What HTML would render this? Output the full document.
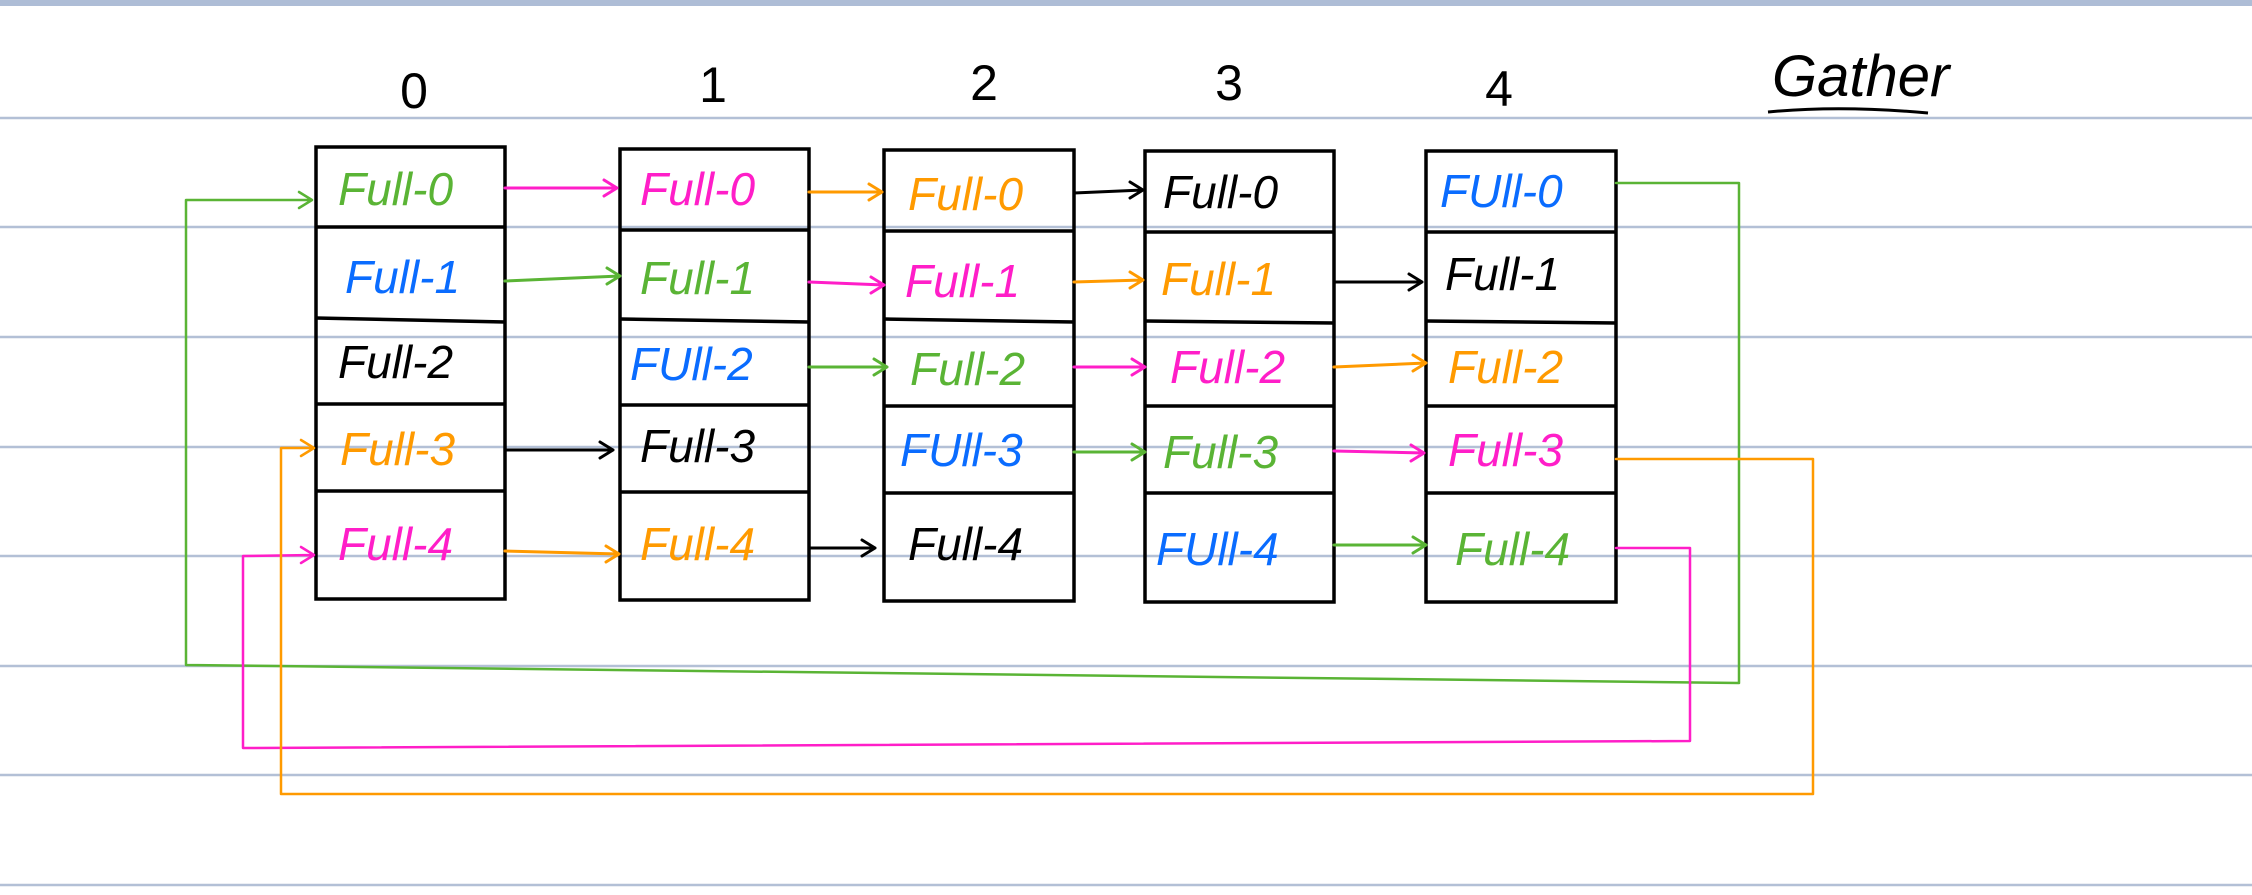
<!DOCTYPE html>
<html><head><meta charset="utf-8"><style>
html,body{margin:0;padding:0;background:#fff}
svg{display:block}
text{font-family:"Liberation Sans",sans-serif}
</style></head><body>
<svg width="2252" height="895" viewBox="0 0 2252 895" xmlns="http://www.w3.org/2000/svg">
<rect width="2252" height="895" fill="#fff"/>
<rect x="0" y="0" width="2252" height="6" fill="#aebdd6"/>
<g stroke="#b3c0d6" stroke-width="2.5">
<line x1="0" y1="118" x2="2252" y2="118"/>
<line x1="0" y1="227" x2="2252" y2="227"/>
<line x1="0" y1="337" x2="2252" y2="337"/>
<line x1="0" y1="447" x2="2252" y2="447"/>
<line x1="0" y1="556" x2="2252" y2="556"/>
<line x1="0" y1="666" x2="2252" y2="666"/>
<line x1="0" y1="775" x2="2252" y2="775"/>
<line x1="0" y1="885" x2="2252" y2="885"/>
</g>
<g font-size="50" fill="#000" text-anchor="middle">
<text x="414" y="108">0</text>
<text x="713" y="102">1</text>
<text x="984" y="100">2</text>
<text x="1229" y="100">3</text>
<text x="1499" y="106">4</text>
</g>
<text x="1772" y="96" font-size="58" font-style="italic" fill="#000">Gather</text>
<path d="M1768 112 Q1840 105 1928 113" stroke="#000" stroke-width="3" fill="none"/>

<!-- boxes -->
<g stroke="#000" stroke-width="3.5" fill="none">
<rect x="316" y="147" width="189" height="452"/>
<line x1="316" y1="227" x2="505" y2="227"/><line x1="316" y1="318" x2="505" y2="322"/><line x1="316" y1="404" x2="505" y2="404"/><line x1="316" y1="491" x2="505" y2="491"/>
<rect x="620" y="149" width="189" height="451"/>
<line x1="620" y1="230" x2="809" y2="230"/><line x1="620" y1="319" x2="809" y2="322"/><line x1="620" y1="405" x2="809" y2="405"/><line x1="620" y1="492" x2="809" y2="492"/>
<rect x="884" y="150" width="190" height="451"/>
<line x1="884" y1="231" x2="1074" y2="231"/><line x1="884" y1="319" x2="1074" y2="322"/><line x1="884" y1="406" x2="1074" y2="406"/><line x1="884" y1="493" x2="1074" y2="493"/>
<rect x="1145" y="151" width="189" height="451"/>
<line x1="1145" y1="232" x2="1334" y2="232"/><line x1="1145" y1="321" x2="1334" y2="323"/><line x1="1145" y1="406" x2="1334" y2="406"/><line x1="1145" y1="493" x2="1334" y2="493"/>
<rect x="1426" y="151" width="190" height="451"/>
<line x1="1426" y1="232" x2="1616" y2="232"/><line x1="1426" y1="321" x2="1616" y2="323"/><line x1="1426" y1="406" x2="1616" y2="406"/><line x1="1426" y1="493" x2="1616" y2="493"/>
</g>

<!-- cell text -->
<g font-size="46" font-style="italic">
<text x="338" y="205" fill="#5ab435">Full-0</text>
<text x="345" y="293" fill="#0a6cff">Full-1</text>
<text x="338" y="378" fill="#000">Full-2</text>
<text x="340" y="465" fill="#ff9a00">Full-3</text>
<text x="338" y="560" fill="#ff1ec8">Full-4</text>

<text x="640" y="205" fill="#ff1ec8">Full-0</text>
<text x="640" y="294" fill="#5ab435">Full-1</text>
<text x="630" y="380" fill="#0a6cff">FUll-2</text>
<text x="640" y="462" fill="#000">Full-3</text>
<text x="640" y="560" fill="#ff9a00">Full-4</text>

<text x="908" y="210" fill="#ff9a00">Full-0</text>
<text x="905" y="297" fill="#ff1ec8">Full-1</text>
<text x="910" y="385" fill="#5ab435">Full-2</text>
<text x="900" y="466" fill="#0a6cff">FUll-3</text>
<text x="908" y="560" fill="#000">Full-4</text>

<text x="1163" y="208" fill="#000">Full-0</text>
<text x="1161" y="295" fill="#ff9a00">Full-1</text>
<text x="1170" y="383" fill="#ff1ec8">Full-2</text>
<text x="1163" y="468" fill="#5ab435">Full-3</text>
<text x="1156" y="565" fill="#0a6cff">FUll-4</text>

<text x="1440" y="207" fill="#0a6cff">FUll-0</text>
<text x="1445" y="290" fill="#000">Full-1</text>
<text x="1448" y="383" fill="#ff9a00">Full-2</text>
<text x="1448" y="466" fill="#ff1ec8">Full-3</text>
<text x="1455" y="565" fill="#5ab435">Full-4</text>
</g>

<!-- arrows -->
<g fill="none" stroke-width="3" stroke-linecap="round" stroke-linejoin="round">
<g stroke="#ff1ec8"><path d="M505 188 H617 M604 180 L617 188 L604 196"/></g>
<g stroke="#5ab435"><path d="M505 281 L620 276 M607 268 L620 276 L607 284"/></g>
<g stroke="#000"><path d="M505 450 H613 M600 442 L613 450 L600 458"/></g>
<g stroke="#ff9a00"><path d="M505 551 L619 554 M606 546 L619 554 L606 562"/></g>

<g stroke="#ff9a00"><path d="M809 192 H882 M869 184 L882 192 L869 200"/></g>
<g stroke="#ff1ec8"><path d="M809 282 L884 285 M871 277 L884 285 L871 293"/></g>
<g stroke="#5ab435"><path d="M809 367 H887 M874 359 L887 367 L874 375"/></g>
<g stroke="#000"><path d="M809 548 H875 M862 540 L875 548 L862 556"/></g>

<g stroke="#000"><path d="M1074 193 L1143 190 M1130 182 L1143 190 L1130 198"/></g>
<g stroke="#ff9a00"><path d="M1074 282 L1143 280 M1130 272 L1143 280 L1130 288"/></g>
<g stroke="#ff1ec8"><path d="M1074 367 H1145 M1132 359 L1145 367 L1132 375"/></g>
<g stroke="#5ab435"><path d="M1074 452 H1145 M1132 444 L1145 452 L1132 460"/></g>

<g stroke="#000"><path d="M1334 282 H1422 M1409 274 L1422 282 L1409 290"/></g>
<g stroke="#ff9a00"><path d="M1334 367 L1426 363 M1413 355 L1426 363 L1413 371"/></g>
<g stroke="#ff1ec8"><path d="M1334 451 L1424 453 M1411 445 L1424 453 L1411 461"/></g>
<g stroke="#5ab435"><path d="M1334 545 H1426 M1413 537 L1426 545 L1413 553"/></g>

<!-- loops -->
<g stroke="#5ab435" stroke-width="2.5"><path d="M1616 183 H1739 V683 L186 665 V200 H312 M299 192 L312 200 L299 208"/></g>
<g stroke="#ff1ec8" stroke-width="2.5"><path d="M1616 548 H1690 V741 L243 748 V556 L314 555 M301 547 L314 555 L301 563"/></g>
<g stroke="#ff9a00" stroke-width="2.5"><path d="M1616 459 H1813 V794 H281 V448 H314 M301 440 L314 448 L301 456"/></g>
</g>
</svg>
</body></html>
